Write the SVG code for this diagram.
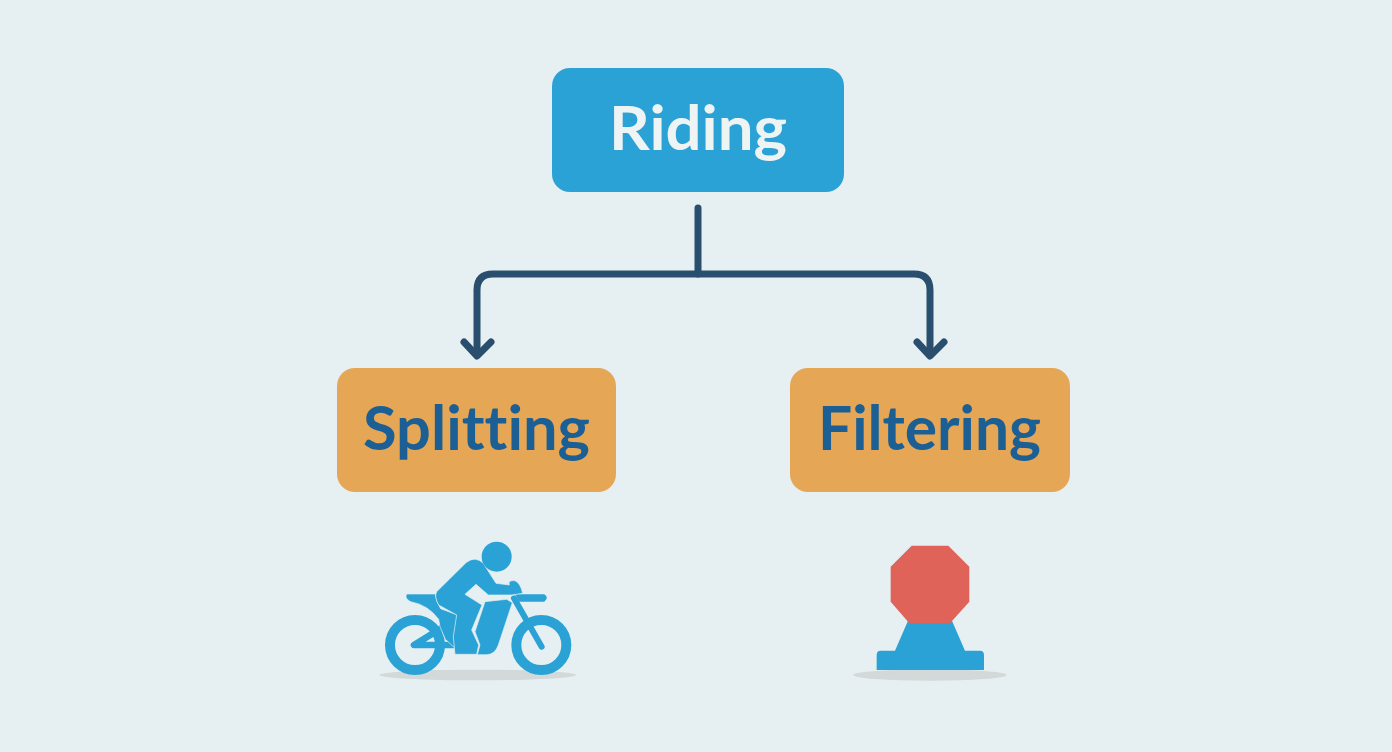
<svg xmlns="http://www.w3.org/2000/svg" width="1392" height="752" viewBox="0 0 1392 752">
  <style>
    .blue { fill: #2aa2d5; }
    .orange { fill: #e5a655; }
    .label { font-family: Lato, "Open Sans", sans-serif; font-weight: 700; font-size: 62px; text-anchor: middle; font-variant-ligatures: none; }
    .dark { fill: #1c5f94; }
    .light { fill: #eef3f3; }
    .conn { fill: none; stroke: #2a4f6e; stroke-width: 7; stroke-linecap: round; stroke-linejoin: round; }
    .shadow { fill: #d3d8d9; }
    .gap { stroke: #e6f0f2; stroke-width: 2; stroke-linejoin: round; }
    .bar { fill: none; stroke: #2aa2d5; stroke-linecap: round; stroke-linejoin: round; }
  </style>
  <rect width="1392" height="752" fill="#e6f0f2"/>
  <g id="connectors">
    <path class="conn" d="M698 208V274"/>
    <path class="conn" d="M477 355V290Q477 274 493 274H914Q930 274 930 290V355"/>
    <path class="conn" d="M464 342L477 356L491 342"/>
    <path class="conn" d="M917 342L930 356L944 342"/>
  </g>
  <g id="node-riding">
    <rect class="blue" x="552" y="68" width="292" height="124" rx="18"/>
    <text class="label light" x="698" y="150" textLength="178" lengthAdjust="spacingAndGlyphs">Riding</text>
  </g>
  <g id="node-splitting">
    <rect class="orange" x="337" y="368" width="279" height="124" rx="18"/>
    <text class="label dark" x="476.500" y="450" textLength="227" lengthAdjust="spacingAndGlyphs">Splitting</text>
  </g>
  <g id="node-filtering">
    <rect class="orange" x="790" y="368" width="280" height="124" rx="18"/>
    <text class="label dark" x="929.500" y="450" textLength="223" lengthAdjust="spacingAndGlyphs">Filtering</text>
  </g>
  <g id="icon-motorcycle" transform="translate(360 530) scale(0.3333)">
    <ellipse class="shadow" cx="353" cy="435" rx="295" ry="16"/>
    <circle class="bar" cx="165" cy="345" r="75" stroke-width="30"/>
    <circle class="bar" cx="544" cy="345" r="75" stroke-width="30"/>
    <path class="bar" d="M248 292L162 345H280" stroke-width="20"/>
    <path class="bar" d="M462 205L545 350" stroke-width="18"/>
    <path class="blue" d="M465 193H553Q568 203 553 215H478Z"/>
    <path class="blue gap" d="M140 192H226Q228 215 242 236L292 255L282 320L286 355L256 328L240 290L236 268Q205 225 152 215Q132 205 140 192Z"/>
    <path class="blue gap" d="M375 215L440 208L457 218L415 345Q405 374 380 374H352L360 345L345 305Z"/>
    <path class="blue gap" d="M230 185L318 98Q345 76 370 100L408 160L448 165Q443 150 465 152Q482 160 488 190L455 195L385 195L348 163L315 193L366 225L335 300L356 345L350 373H285L280 320L290 255L236 225Q222 200 230 185Z"/>
    <circle class="blue" cx="410" cy="80" r="45"/>
  </g>
  <g id="icon-stop" transform="translate(840 530) scale(0.3333)">
    <ellipse class="shadow" cx="270" cy="435" rx="230" ry="17"/>
    <path class="blue" d="M205 270H335L375 362H420Q432 362 432 375V420H110V375Q110 362 122 362H165Z"/>
    <path fill="#df6359" d="M215 47H325L388 110V215L330 280H208L152 215V110Z"/>
  </g>
</svg>
